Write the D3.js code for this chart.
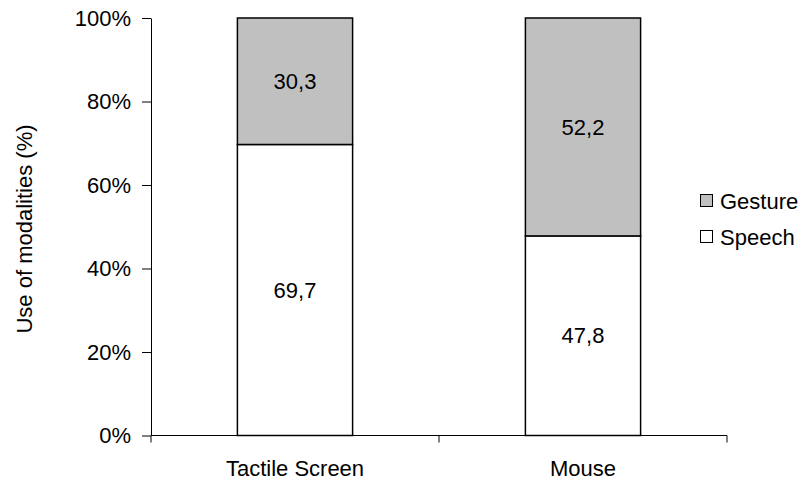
<!DOCTYPE html>
<html><head><meta charset="utf-8">
<script src="https://cdn.jsdelivr.net/npm/d3@7/dist/d3.min.js"></script>
<style>body{margin:0;background:#fff}svg text{font-family:"Liberation Sans",Arial,sans-serif;fill:#000}</style>
</head><body><svg id="c" width="801" height="481"></svg>
<script>
const categories = ["Tactile Screen", "Mouse"];
const speech = [69.7, 47.8];
const gesture = [30.3, 52.2];
const seriesNames = ["Gesture", "Speech"];
const yTicks = [0, 20, 40, 60, 80, 100];

const svg = d3.select("#c");
const pLeft = 151, pRight = 727, pTop = 18, pBottom = 435.5;
const x = d3.scaleBand().domain(categories).range([pLeft, pRight]).paddingInner(0.6).paddingOuter(0.3);
const y = d3.scaleLinear().domain([0, 100]).range([pBottom, pTop]);
const fs = 22;

// y axis
const ya = svg.append("g").attr("transform", `translate(${pLeft},0)`)
  .call(d3.axisLeft(y).tickValues(yTicks).tickSize(9).tickSizeOuter(0).tickPadding(11).tickFormat(d => d + "%"));
ya.selectAll("text").style("font-size", fs + "px").attr("font-family", null);
ya.selectAll("line,path").attr("stroke", "#000");

const data = categories.map((c, i) => ({c, s: speech[i], g: gesture[i]}));
const bw = x.bandwidth();
const g = svg.append("g");
data.forEach(d => {
  g.append("rect").attr("x", x(d.c)).attr("y", y(d.s)).attr("width", bw).attr("height", y(0) - y(d.s))
    .attr("fill", "#fff").attr("stroke", "#000").attr("stroke-width", 1.5);
  g.append("rect").attr("x", x(d.c)).attr("y", y(d.s + d.g)).attr("width", bw).attr("height", y(d.s) - y(d.s + d.g))
    .attr("fill", "#c0c0c0").attr("stroke", "#000").attr("stroke-width", 1.5);
  g.append("text").attr("x", x(d.c) + bw / 2).attr("y", y(d.s / 2)).attr("dy", "0.35em").attr("text-anchor", "middle")
    .style("font-size", fs + "px").text(d.s.toFixed(1).replace(".", ","));
  g.append("text").attr("x", x(d.c) + bw / 2).attr("y", y(d.s + d.g / 2)).attr("dy", "0.35em").attr("text-anchor", "middle")
    .style("font-size", fs + "px").text(d.g.toFixed(1).replace(".", ","));
});

// x axis
const xb = d3.scaleLinear().domain([0, categories.length]).range([pLeft, pRight]);
svg.append("line").attr("x1", pLeft).attr("x2", pRight).attr("y1", pBottom).attr("y2", pBottom).attr("stroke", "#000");
d3.range(0, categories.length + 1).forEach(i => {
  svg.append("line").attr("x1", xb(i)).attr("x2", xb(i)).attr("y1", pBottom).attr("y2", pBottom + 7).attr("stroke", "#000");
});
categories.forEach(c => {
  svg.append("text").attr("x", x(c) + bw / 2).attr("y", 476).attr("text-anchor", "middle").style("font-size", fs + "px").text(c);
});

// y title
svg.append("text").attr("transform", `translate(32,229) rotate(-90)`).attr("text-anchor", "middle")
  .style("font-size", fs + "px").text("Use of modalities (%)");

// legend
const fills = {Gesture: "#c0c0c0", Speech: "#fff"};
seriesNames.forEach((n, i) => {
  const ly = 201 + i * 36;
  svg.append("rect").attr("x", 700.5).attr("y", ly - 6.5).attr("width", 12).attr("height", 12).attr("fill", fills[n]).attr("stroke", "#000");
  svg.append("text").attr("x", 720).attr("y", ly).attr("dy", "0.36em").style("font-size", fs + "px").text(n);
});
</script></body></html>
